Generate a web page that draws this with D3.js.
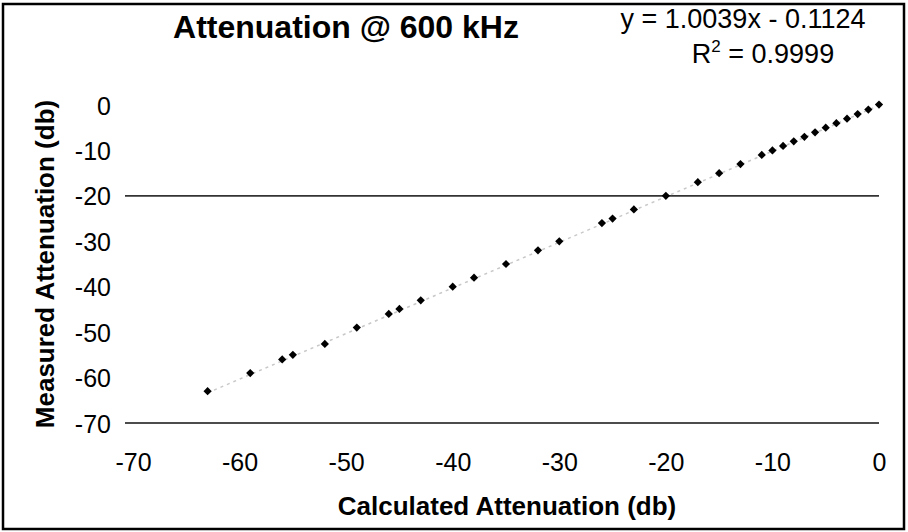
<!DOCTYPE html>
<html>
<head>
<meta charset="utf-8" />
<title>Attenuation @ 600 kHz</title>
<style>
    body { margin: 0; background: #fff; }
    svg text { font-family: Arial, "Liberation Sans", sans-serif; fill: #000; }
</style>
</head>
<body>
<div id="container"></div>
<script src="https://cdn.jsdelivr.net/npm/d3@7"></script>
<script>
    // calculated vs measured attenuation (db)
    const calculated = [-63, -59, -56, -55, -52, -49, -46, -45, -43, -40, -38, -35, -32, -30, -26, -25, -23,
        -20, -17, -15, -13, -11, -10, -9, -8, -7, -6, -5, -4, -3, -2, -1, 0]
    const measured = [-63, -59, -56, -55, -52.6, -49, -46, -44.9, -43, -40, -38, -35, -32, -30, -26, -25, -23,
        -20, -17, -15, -13, -11, -10, -9, -8, -7, -6, -5, -4, -3, -2, -1, 0.1]
    const xTicks = [-70, -60, -50, -40, -30, -20, -10, 0]
    const yTicks = [0, -10, -20, -30, -40, -50, -60, -70]
    const gridValues = [-20, -70]
    const slope = 1.0039
    const intercept = -0.1124

    const width = 908
    const height = 532

    let svg = d3.select('#container').append('svg').attr('width', width).attr('height', height)

    svg.append('rect').attr('x', 3).attr('y', 4).attr('width', 901).attr('height', 525)
        .style('fill', '#fff').style('stroke', '#000').style('stroke-width', 2.5)

    let scaleX = d3.scaleLinear().domain([-70, 0]).range([133, 879])
    let scaleY = d3.scaleLinear().domain([-70, 0]).range([423, 105])

    // horizontal lines
    svg.append('g').selectAll('line').data(gridValues).join('line')
        .attr('x1', scaleX(-70) - 8).attr('x2', scaleX(0))
        .attr('y1', d => scaleY(d)).attr('y2', d => scaleY(d))
        .style('stroke', d => d === -70 ? '#111' : '#333').style('stroke-width', 1.6)

    // axes (labels only), plain hyphen for the minus sign
    let axisX = d3.axisBottom(scaleX).tickValues(xTicks).tickSize(0).tickPadding(0).tickFormat(d => String(d))
    let gx = svg.append('g').attr('transform', 'translate(0, 453)').call(axisX)
    gx.select('.domain').remove()
    gx.selectAll('text').style('font-size', '25px').attr('dy', '0.72em')

    let axisY = d3.axisLeft(scaleY).tickValues(yTicks).tickSize(0).tickPadding(0).tickFormat(d => String(d))
    let gy = svg.append('g').attr('transform', 'translate(111, 0)').call(axisY)
    gy.select('.domain').remove()
    gy.selectAll('text').style('font-size', '25px').attr('dy', '0.36em')

    // trendline
    let trendX = [d3.min(calculated), d3.max(calculated)]
    svg.append('path')
        .attr('d', d3.line().x(d => scaleX(d)).y(d => scaleY(slope * d + intercept))(trendX))
        .style('fill', 'none').style('stroke', '#c8c8c8').style('stroke-width', 1.5).style('stroke-dasharray', '3,4')

    // points
    let points = calculated.map((c, i) => [c, measured[i]])
    svg.append('g').selectAll('path').data(points).join('path')
        .attr('d', d3.symbol(d3.symbolSquare, 34))
        .attr('transform', d => `translate(${scaleX(d[0])}, ${scaleY(d[1])}) rotate(45)`)
        .style('fill', '#000')

    // titles
    svg.append('text').attr('x', 346).attr('y', 38).attr('text-anchor', 'middle')
        .style('font-size', '32px').style('font-weight', 'bold').text('Attenuation @ 600 kHz')

    svg.append('text').attr('x', 507).attr('y', 515).attr('text-anchor', 'middle')
        .style('font-size', '26px').style('font-weight', 'bold').text('Calculated Attenuation (db)')

    svg.append('text').attr('transform', 'translate(54, 264) rotate(-90)').attr('text-anchor', 'middle')
        .style('font-size', '26px').style('font-weight', 'bold').text('Measured Attenuation (db)')

    // trendline equation
    svg.append('text').attr('x', 743).attr('y', 28).attr('text-anchor', 'middle')
        .style('font-size', '27px').text('y = 1.0039x - 0.1124')

    let r2 = svg.append('text').attr('x', 763).attr('y', 63).attr('text-anchor', 'middle').style('font-size', '27px')
    r2.append('tspan').text('R')
    r2.append('tspan').attr('dy', -11).style('font-size', '17px').text('2')
    r2.append('tspan').attr('dy', 11).text(' = 0.9999')
</script>
</body>
</html>
